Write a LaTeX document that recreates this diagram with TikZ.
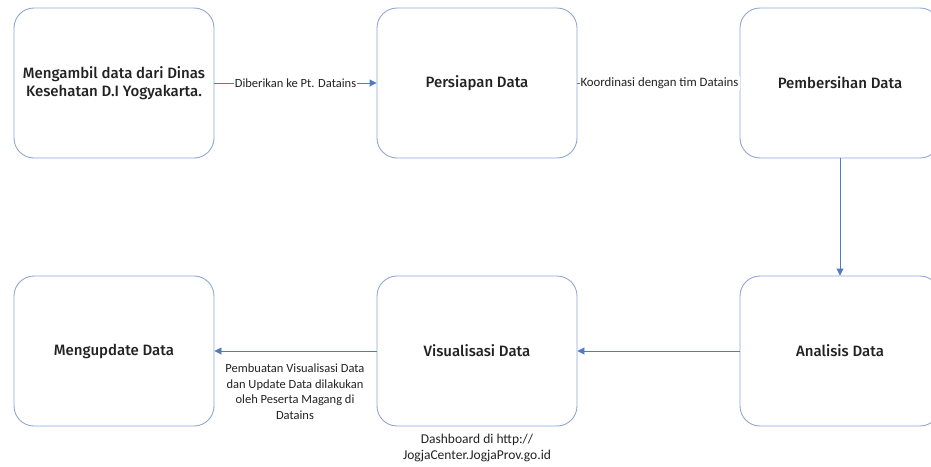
\documentclass[tikz,border=0pt]{standalone}
\usepackage{fontspec}
\setmainfont{Carlito}
\newfontfamily\boxfont{Fira Sans Medium}
\usetikzlibrary{arrows.meta}
\definecolor{boxline}{HTML}{8FA6D4}
\definecolor{conn}{HTML}{4F7CC0}
\definecolor{txt}{HTML}{222222}
\tikzset{
  stepbox/.style={draw=boxline, line width=0.9pt, rounded corners=20pt, minimum width=200pt, minimum height=150pt, inner sep=0pt, align=center, font=\boxfont\fontsize{15}{18}\selectfont, text=txt},
  conn/.style={draw=conn, line width=0.9pt, -{Triangle[length=7pt,width=7pt]}},
  lbl/.style={font=\fontsize{12.5}{15.5}\selectfont, text=txt, align=center, inner sep=1pt},
}
\begin{document}
\begin{tikzpicture}[x=1pt,y=-1pt]
\useasboundingbox (0,0) rectangle (931,466);
\begin{scope}
\clip (0,0) rectangle (931,466);
\node[stepbox] (a) at (114,83) {Mengambil data dari Dinas\\Kesehatan D.I Yogyakarta.};
\node[stepbox] (b) at (477,83) {Persiapan Data};
\node[stepbox] (c) at (840,83) {Pembersihan Data};
\node[stepbox] (f) at (114,351) {Mengupdate Data};
\node[stepbox] (e) at (477,351) {Visualisasi Data};
\node[stepbox] (d) at (840,351) {Analisis Data};
\end{scope}
\draw[conn] (a) -- node[lbl, fill=white] {Diberikan ke Pt. Datains} (b);
\draw[conn] (b) -- node[lbl, fill=white, minimum width=159pt, xshift=1pt, font=\fontsize{12.8}{15.5}\selectfont] {Koordinasi dengan tim Datains} (c);
\draw[conn] (c) -- (d);
\draw[conn] (d) -- (e);
\draw[conn] (e) -- (f);
\node[lbl, anchor=north] (l1) at (295,363) {Pembuatan Visualisasi Data\\dan Update Data dilakukan\\oleh Peserta Magang di\\Datains};
\node[lbl, anchor=north, font=\fontsize{13.5}{16}\selectfont] (l2) at (477,433) {Dashboard di http://\\JogjaCenter.JogjaProv.go.id};
\end{tikzpicture}
\end{document}
